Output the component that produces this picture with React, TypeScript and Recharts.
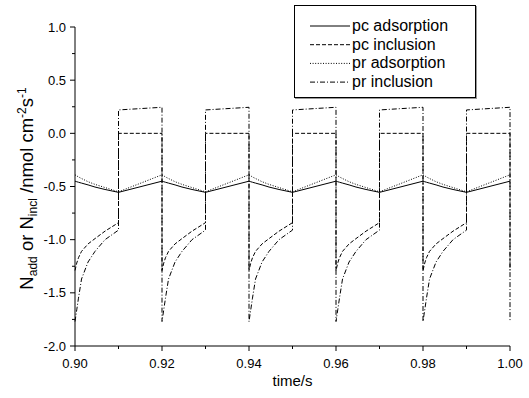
import React from 'react';
import { LineChart, Line, XAxis, YAxis, Legend } from 'recharts';

const seriesNames = ['pc adsorption', 'pc inclusion', 'pr adsorption', 'pr inclusion'];
const seriesKeys = ['pcAds', 'pcInc', 'prAds', 'prInc'];
const seriesDash = ['', '4 2', '1 1.6', '5 2 1 2'];

const xTicks = [0.9, 0.91, 0.92, 0.93, 0.94, 0.95, 0.96, 0.97, 0.98, 0.99, 1.0];
const yTicks = [-2, -1.75, -1.5, -1.25, -1, -0.75, -0.5, -0.25, 0, 0.25, 0.5, 0.75, 1];

const time = [
  0.9, 0.9004, 0.9008, 0.9015, 0.903, 0.9046, 0.9069, 0.91, 0.91, 0.92,
  0.92, 0.9204, 0.9208, 0.9215, 0.923, 0.9246, 0.9269, 0.93, 0.93, 0.94,
  0.94, 0.9404, 0.9408, 0.9415, 0.943, 0.9446, 0.9469, 0.95, 0.95, 0.96,
  0.96, 0.9604, 0.9608, 0.9615, 0.963, 0.9646, 0.9669, 0.97, 0.97, 0.98,
  0.98, 0.9804, 0.9808, 0.9815, 0.983, 0.9846, 0.9869, 0.99, 0.99, 1.0,
  1.0,
];

const pcAdsorption = [
  -0.45, -0.455, -0.46, -0.468, -0.485, -0.505, -0.528, -0.555, -0.555, -0.45,
  -0.45, -0.455, -0.46, -0.468, -0.485, -0.505, -0.528, -0.555, -0.555, -0.45,
  -0.45, -0.455, -0.46, -0.468, -0.485, -0.505, -0.528, -0.555, -0.555, -0.45,
  -0.45, -0.455, -0.46, -0.468, -0.485, -0.505, -0.528, -0.555, -0.555, -0.45,
  -0.45, -0.455, -0.46, -0.468, -0.485, -0.505, -0.528, -0.555, -0.555, -0.45,
  -0.45,
];

const pcInclusion = [
  -1.29, -1.22, -1.17, -1.11, -1.04, -0.99, -0.92, -0.84, 0, 0,
  -1.29, -1.22, -1.17, -1.11, -1.04, -0.99, -0.92, -0.84, 0, 0,
  -1.29, -1.22, -1.17, -1.11, -1.04, -0.99, -0.92, -0.84, 0, 0,
  -1.29, -1.22, -1.17, -1.11, -1.04, -0.99, -0.92, -0.84, 0, 0,
  -1.29, -1.22, -1.17, -1.11, -1.04, -0.99, -0.92, -0.84, 0, 0,
  -1.29,
];

const prAdsorption = [
  -0.39, -0.4, -0.41, -0.425, -0.455, -0.48, -0.51, -0.55, -0.55, -0.39,
  -0.39, -0.4, -0.41, -0.425, -0.455, -0.48, -0.51, -0.55, -0.55, -0.39,
  -0.39, -0.4, -0.41, -0.425, -0.455, -0.48, -0.51, -0.55, -0.55, -0.39,
  -0.39, -0.4, -0.41, -0.425, -0.455, -0.48, -0.51, -0.55, -0.55, -0.39,
  -0.39, -0.4, -0.41, -0.425, -0.455, -0.48, -0.51, -0.55, -0.55, -0.39,
  -0.39,
];

const prInclusion = [
  -1.77, -1.66, -1.55, -1.37, -1.21, -1.11, -1.0, -0.91, 0.22, 0.245,
  -1.77, -1.66, -1.55, -1.37, -1.21, -1.11, -1.0, -0.91, 0.22, 0.245,
  -1.77, -1.66, -1.55, -1.37, -1.21, -1.11, -1.0, -0.91, 0.22, 0.245,
  -1.77, -1.66, -1.55, -1.37, -1.21, -1.11, -1.0, -0.91, 0.22, 0.245,
  -1.77, -1.66, -1.55, -1.37, -1.21, -1.11, -1.0, -0.91, 0.22, 0.245,
  -1.77,
];

const data = time.map((t, i) => ({
  t,
  pcAds: pcAdsorption[i],
  pcInc: pcInclusion[i],
  prAds: prAdsorption[i],
  prInc: prInclusion[i],
}));

const FONT = 'Arial, "Liberation Sans", sans-serif';

const XTick = (props: any) => {
  const { x, y, payload } = props;
  const v = payload.value;
  const major = Math.round(v * 100) % 2 === 0;
  return (
    <g>
      <line x1={x} y1={y} x2={x} y2={y + (major ? 5 : 3)} stroke="#000" strokeWidth={1} />
      {major && (
        <text x={x} y={y + 22} textAnchor="middle" fontSize={13} fontFamily={FONT} fill="#000">
          {v.toFixed(2)}
        </text>
      )}
    </g>
  );
};

const YTick = (props: any) => {
  const { x, y, payload } = props;
  const v = payload.value;
  const major = Math.abs(v * 2 - Math.round(v * 2)) < 1e-6;
  return (
    <g>
      <line x1={x - (major ? 5 : 3)} y1={y} x2={x} y2={y} stroke="#000" strokeWidth={1} />
      {major && (
        <text x={x - 9} y={y + 4.5} textAnchor="end" fontSize={13} fontFamily={FONT} fill="#000">
          {v.toFixed(1)}
        </text>
      )}
    </g>
  );
};

const XLabel = (props: any) => {
  const vb = props.viewBox || {};
  return (
    <text x={vb.x + vb.width / 2} y={vb.y + 40} textAnchor="middle" fontSize={15} fontFamily={FONT} fill="#000">
      time/s
    </text>
  );
};

const YLabel = (props: any) => {
  const vb = props.viewBox || {};
  const cx = 33;
  const cy = vb.y + vb.height / 2 + 2;
  return (
    <text
      x={cx}
      y={cy}
      textAnchor="middle"
      fontSize={18.5}
      fontFamily={FONT}
      fill="#000"
      transform={`rotate(-90, ${cx}, ${cy})`}
    >
      <tspan>N</tspan>
      <tspan fontSize={12} dy={4}>add</tspan>
      <tspan dy={-4}> or N</tspan>
      <tspan fontSize={12} dy={4}>incl</tspan>
      <tspan dy={-4}> /nmol cm</tspan>
      <tspan fontSize={12} dy={-7}>-2</tspan>
      <tspan dy={7}>s</tspan>
      <tspan fontSize={12} dy={-7}>-1</tspan>
    </text>
  );
};

const LegendBox = () => (
  <svg width={184} height={95} style={{ display: 'block' }}>
    <rect x={1.5} y={1.5} width={181} height={92} fill="none" stroke="#999" strokeWidth={1} />
    <rect x={0.5} y={0.5} width={181} height={92} fill="#fff" stroke="#000" strokeWidth={1} />
    {seriesNames.map((name, i) => {
      const cy = 21 + i * 18.7;
      return (
        <g key={name}>
          <line x1={16} y1={cy} x2={56} y2={cy} stroke="#000" strokeWidth={1} strokeDasharray={seriesDash[i] || undefined} />
          <text x={58} y={cy + 5} fontSize={16} fontFamily={FONT} fill="#000">
            {name}
          </text>
        </g>
      );
    })}
  </svg>
);

export default function App() {
  return (
    <div style={{ position: 'absolute', left: 0, top: 0, width: 529, height: 398, background: '#fff' }}>
      <LineChart
        width={529}
        height={398}
        data={data}
        margin={{ top: 27, right: 19, bottom: 22, left: 15 }}
      >
        <XAxis
          dataKey="t"
          type="number"
          domain={[0.9, 1.0]}
          ticks={xTicks}
          interval={0}
          height={30}
          tickSize={0}
          tickMargin={0}
          tickLine={false}
          axisLine={{ stroke: '#000', strokeWidth: 1 }}
          tick={XTick}
          label={XLabel}
        />
        <YAxis
          type="number"
          domain={[-2, 1]}
          ticks={yTicks}
          interval={0}
          width={60}
          tickSize={0}
          tickMargin={0}
          tickLine={false}
          axisLine={{ stroke: '#000', strokeWidth: 1 }}
          tick={YTick}
          label={YLabel}
        />
        <Legend
          verticalAlign="middle"
          align="center"
          layout="horizontal"
          content={LegendBox}
          wrapperStyle={{ left: 294, top: 5, width: 184, height: 95 }}
        />
        {seriesKeys.map((k, i) => (
          <Line
            key={k}
            dataKey={k}
            name={seriesNames[i]}
            type="linear"
            stroke="#000"
            strokeWidth={1}
            strokeDasharray={seriesDash[i] || undefined}
            dot={false}
            activeDot={false}
            isAnimationActive={false}
          />
        ))}
      </LineChart>
    </div>
  );
}
